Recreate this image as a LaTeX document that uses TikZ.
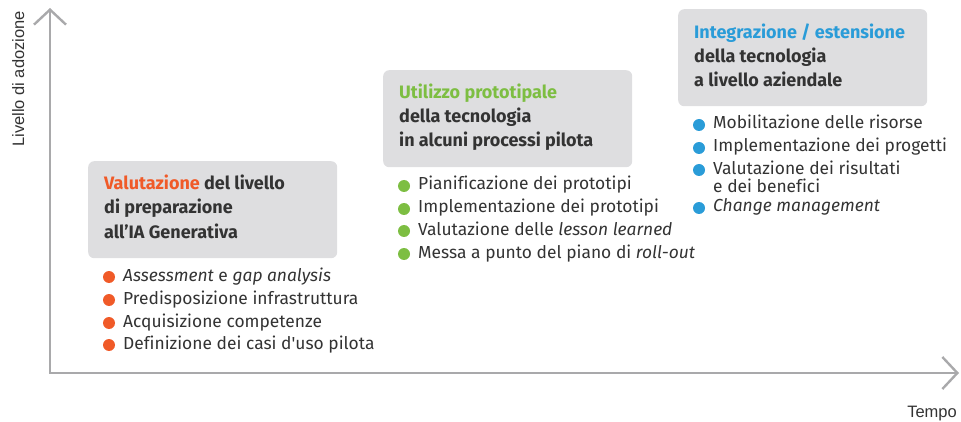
\documentclass[tikz,border=0pt]{standalone}
\usepackage{fontspec}
\setmainfont{Fira Sans}[Ligatures={TeXOff,NoCommon}]
\newfontfamily\axisfont{Liberation Sans}
\usetikzlibrary{arrows.meta}
\definecolor{axisgray}{HTML}{A9A9AB}
\definecolor{boxgray}{HTML}{DEDEE0}
\definecolor{txt}{HTML}{333333}
\definecolor{orng}{HTML}{F05A28}
\definecolor{grn}{HTML}{7DBE42}
\definecolor{blu}{HTML}{2A9CD8}
\begin{document}
\begin{tikzpicture}[x=1pt,y=-1pt,
  phasebox/.style={fill=boxgray,rounded corners=6pt,minimum width=249pt,minimum height=97pt,anchor=north west,inner sep=0pt},
  titleline/.style={anchor=base west,inner sep=0pt,font=\fontsize{18}{24}\selectfont\bfseries,text=txt},
  itemline/.style={anchor=base west,inner sep=0pt,font=\fontsize{17.4}{22}\selectfont,text=txt},
  bdot/.style={circle,inner sep=0pt,minimum size=12pt,fill=#1},
  axisline/.style={draw=axisgray,line width=2.4pt,-{Straight Barb[length=15pt,width=32pt]}},
  axislabel/.style={inner sep=0pt,font=\axisfont\fontsize{16.5}{20}\selectfont,text=txt}]
\useasboundingbox (0,0) rectangle (961,422);
% axes
\coordinate (origin) at (50,373);
\coordinate (ytip) at (50,8);
\coordinate (xtip) at (959,373);
\draw[axisline] (origin) -- (ytip);
\draw[axisline] ([xshift=-1.2pt]origin) -- (xtip);
\node[axislabel,rotate=90,anchor=base west] (ylab) at (24,147) {Livello di adozione};
\node[axislabel,anchor=base east] (xlab) at (957,417) {Tempo};
% box 1
\node[phasebox] (box1) at (88,161) {};
\node[titleline] (t1a) at (104,190) {\textcolor{orng}{Valutazione} del livello};
\node[titleline] (t1b) at (104,214) {di preparazione};
\node[titleline] (t1c) at (104,238) {all’IA Generativa};
\node[bdot=orng] (d1a) at (109,277) {};
\node[bdot=orng] (d1b) at (109,300) {};
\node[bdot=orng] (d1c) at (109,323) {};
\node[bdot=orng] (d1d) at (109,345) {};
\node[itemline] (i1a) at (123,281) {\textit{Assessment} e \textit{gap analysis}};
\node[itemline] (i1b) at (123,304) {Predisposizione infrastruttura};
\node[itemline] (i1c) at (123,327) {Acquisizione competenze};
\node[itemline] (i1d) at (123,349) {Definizione dei casi d'uso pilota};
% box 2
\node[phasebox] (box2) at (383,70) {};
\node[titleline] (t2a) at (399,99) {\textcolor{grn}{Utilizzo prototipale}};
\node[titleline] (t2b) at (399,123) {della tecnologia};
\node[titleline] (t2c) at (399,147) {in alcuni processi pilota};
\node[bdot=grn] (d2a) at (404,186) {};
\node[bdot=grn] (d2b) at (404,209) {};
\node[bdot=grn] (d2c) at (404,231) {};
\node[bdot=grn] (d2d) at (404,254) {};
\node[itemline] (i2a) at (418,190) {Pianificazione dei prototipi};
\node[itemline] (i2b) at (418,213) {Implementazione dei prototipi};
\node[itemline] (i2c) at (418,235.5) {Valutazione delle \textit{lesson learned}};
\node[itemline] (i2d) at (418,258.5) {Messa a punto del piano di \textit{roll-out}};
% box 3
\node[phasebox] (box3) at (678,9) {};
\node[titleline] (t3a) at (694,39) {\textcolor{blu}{Integrazione / estensione}};
\node[titleline] (t3b) at (694,63) {della tecnologia};
\node[titleline] (t3c) at (694,87) {a livello aziendale};
\node[bdot=blu] (d3a) at (699,125) {};
\node[bdot=blu] (d3b) at (699,148) {};
\node[bdot=blu] (d3c) at (699,170) {};
\node[bdot=blu] (d3d) at (699,208) {};
\node[itemline] (i3a) at (713,129) {Mobilitazione delle risorse};
\node[itemline] (i3b) at (713,152) {Implementazione dei progetti};
\node[itemline] (i3c) at (713,175) {Valutazione dei risultati};
\node[itemline] (i3e) at (713,193) {e dei benefici};
\node[itemline] (i3d) at (713,212) {\textit{Change management}};
\end{tikzpicture}
\end{document}
